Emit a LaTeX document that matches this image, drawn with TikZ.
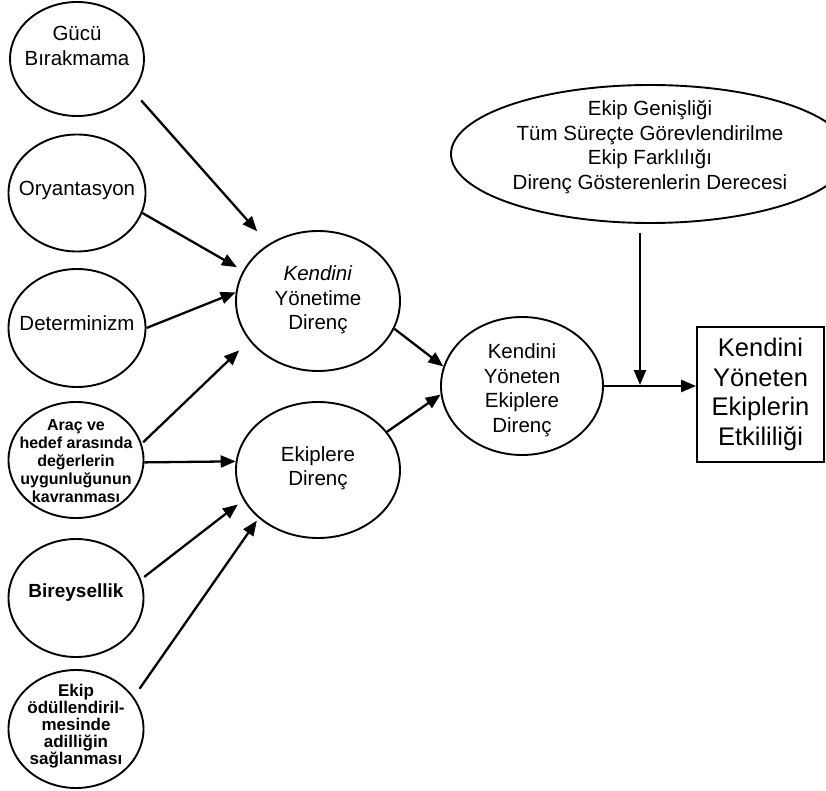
\documentclass[tikz,border=0pt]{standalone}
\usepackage{fontspec}
\setmainfont{Liberation Sans}
\usetikzlibrary{arrows.meta,shapes.geometric}
\begin{document}
\begin{tikzpicture}[x=1pt,y=-1pt,
  ell/.style={ellipse, draw, line width=1.9pt, inner sep=0pt},
  arr/.style={line width=2.3pt, -{Triangle[length=15pt,width=12pt]}},
  lbl/.style={align=center, inner sep=0pt},
  nrm/.style={font=\fontsize{20.5}{24.5}\selectfont},
  bA/.style={font=\bfseries\fontsize{16}{18}\selectfont},
  bE/.style={font=\bfseries\fontsize{17}{17}\selectfont},
  bB/.style={font=\bfseries\fontsize{19}{22}\selectfont},
  big/.style={font=\fontsize{25.5}{29.5}\selectfont}]
\useasboundingbox (0,0) rectangle (826,791);

% left column
\node[ell, minimum width=134pt, minimum height=114pt,
  label={[name=gt, lbl, nrm, yshift=13pt]center:Gücü\\Bırakmama}] (g) at (77,59) {};
\node[ell, minimum width=137pt, minimum height=117pt,
  label={[name=ot, lbl, nrm, yshift=3pt]center:Oryantasyon}] (o) at (77,193) {};
\node[ell, minimum width=137pt, minimum height=118pt,
  label={[name=dt, lbl, nrm, yshift=5pt]center:Determinizm}] (d) at (77,328) {};
\node[ell, minimum width=135pt, minimum height=116pt,
  label={[name=at, lbl, bA, yshift=-1pt]center:Araç ve\\hedef arasında\\değerlerin\\uygunluğunun\\kavranması}] (a) at (76,460) {};
\node[ell, minimum width=135pt, minimum height=118pt,
  label={[name=bt, lbl, bB, yshift=5pt]center:Bireysellik}] (b) at (76,598) {};
\node[ell, minimum width=135pt, minimum height=118pt,
  label={[name=et, lbl, bE, yshift=3pt]center:Ekip\\ödüllendiril-\\mesinde\\adilliğin\\sağlanması}] (e) at (76,729) {};

% middle column
\node[ell, minimum width=164pt, minimum height=140pt,
  label={[name=kydt, lbl, nrm, yshift=1pt]center:\textit{Kendini}\\Yönetime\\Direnç}] (kyd) at (318,301) {};
\node[ell, minimum width=164pt, minimum height=136pt,
  label={[name=edt, lbl, nrm, yshift=2pt]center:Ekiplere\\Direnç}] (ed) at (318,470) {};
\node[ell, minimum width=162pt, minimum height=138pt,
  label={[name=kyedt, lbl, nrm, yshift=-4pt]center:Kendini\\Yöneten\\Ekiplere\\Direnç}] (kyed) at (522,386) {};

% top moderator ellipse
\node[ell, minimum width=398pt, minimum height=138pt,
  label={[name=topt, lbl, nrm, yshift=7pt]center:Ekip Genişliği\\Tüm Süreçte Görevlendirilme\\Ekip Farklılığı\\Direnç Gösterenlerin Derecesi}] (top) at (650,154) {};

% outcome box
\node[draw, line width=1.9pt, minimum width=127pt, minimum height=135pt,
  inner sep=0pt, align=center, big] (box) at (760.5,394.5)
  {Kendini\\Yöneten\\Ekiplerin\\Etkililiği};

% connectors
\draw[arr, shorten <=12pt, shorten >=17pt] (g.-30) -- (kyd.131);
\draw[arr, shorten >=7pt] (o.-17) -- (kyd.158);
\draw[arr] (d.0) -- (kyd.174);
\draw[arr, shorten <=2pt, shorten >=14pt] (a.14) -- (kyd.210);
\draw[arr] (a.-2) -- (ed.174);
\draw[arr, shorten <=4pt, shorten >=7pt] (b.16) -- (ed.202);
\draw[arr, shorten <=10pt, shorten >=3pt] (e.29) -- (ed.219);
\draw[arr] (kyd.-20) -- (kyed.166);
\draw[arr] (ed.29) -- (kyed.186);
\draw[arr] (kyed.east) -- (kyed.east -| box.west);
\coordinate (j) at (640,385);
\draw[arr, shorten <=9pt] (top.south -| j) -- (j);
\end{tikzpicture}
\end{document}
